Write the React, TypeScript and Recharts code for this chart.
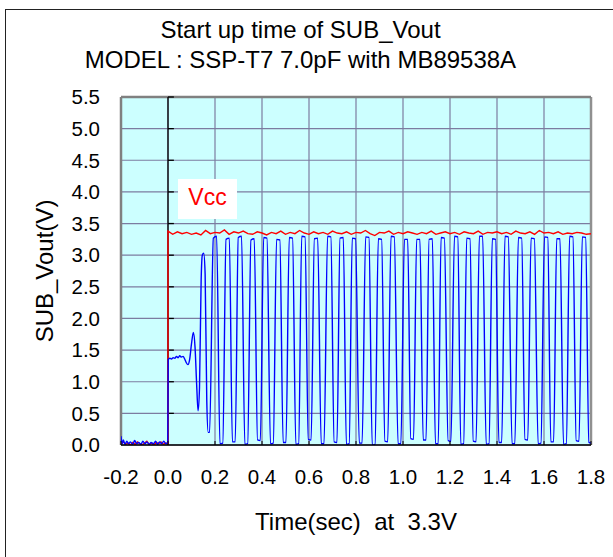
import { LineChart, Line, XAxis, YAxis, CartesianGrid, ReferenceLine, Label } from "recharts";

// axis ticks
const xTicks = [-0.2, 0, 0.2, 0.4, 0.6, 0.8, 1.0, 1.2, 1.4, 1.6, 1.8];
const yTicks = [0, 0.5, 1.0, 1.5, 2.0, 2.5, 3.0, 3.5, 4.0, 4.5, 5.0, 5.5];

// Vcc (red) : [time sec, volt]
const vccOff: [number, number][] = [
  [-0.2, 0.02], [-0.19, 0.05], [-0.18, 0.01], [-0.17, 0.03], [-0.16, 0.0], [-0.15, 0.04],
  [-0.14, 0.01], [-0.13, 0.05], [-0.12, 0.02], [-0.11, 0.0], [-0.1, 0.03], [-0.09, 0.06],
  [-0.08, 0.01], [-0.07, 0.03], [-0.06, 0.0], [-0.05, 0.04], [-0.04, 0.02], [-0.03, 0.05],
  [-0.02, 0.01], [-0.01, 0.03], [0, 0.02],
];
const vccOn: [number, number][] = [
  [0, 3.38], [0.02, 3.33], [0.04, 3.37], [0.06, 3.34], [0.08, 3.36], [0.1, 3.33], [0.12, 3.35],
  [0.14, 3.32], [0.16, 3.39], [0.18, 3.34], [0.2, 3.36], [0.22, 3.35], [0.24, 3.4], [0.26, 3.33],
  [0.28, 3.37], [0.3, 3.35], [0.32, 3.38], [0.34, 3.34], [0.36, 3.33], [0.38, 3.37], [0.4, 3.35],
  [0.42, 3.32], [0.44, 3.36], [0.46, 3.34], [0.48, 3.38], [0.5, 3.33], [0.52, 3.36], [0.54, 3.34],
  [0.56, 3.39], [0.58, 3.35], [0.6, 3.33], [0.62, 3.37], [0.64, 3.34], [0.66, 3.36], [0.68, 3.33],
  [0.7, 3.38], [0.72, 3.35], [0.74, 3.34], [0.76, 3.37], [0.78, 3.33], [0.8, 3.36], [0.82, 3.35],
  [0.84, 3.39], [0.86, 3.34], [0.88, 3.31], [0.9, 3.36], [0.92, 3.35], [0.94, 3.38], [0.96, 3.33],
  [0.98, 3.36], [1.0, 3.34], [1.02, 3.37], [1.04, 3.35], [1.06, 3.33], [1.08, 3.36], [1.1, 3.34],
  [1.12, 3.38], [1.14, 3.33], [1.16, 3.35], [1.18, 3.37], [1.2, 3.34], [1.22, 3.36], [1.24, 3.33],
  [1.26, 3.37], [1.28, 3.35], [1.3, 3.34], [1.32, 3.38], [1.34, 3.33], [1.36, 3.36], [1.38, 3.35],
  [1.4, 3.37], [1.42, 3.34], [1.44, 3.36], [1.46, 3.33], [1.48, 3.38], [1.5, 3.35], [1.52, 3.34],
  [1.54, 3.37], [1.56, 3.33], [1.58, 3.39], [1.6, 3.35], [1.62, 3.36], [1.64, 3.34], [1.66, 3.37],
  [1.68, 3.33], [1.7, 3.35], [1.72, 3.34], [1.74, 3.36], [1.76, 3.35], [1.78, 3.33], [1.8, 3.34],
];

// SUB_Vout (blue) : [time sec, volt]
const outOff: [number, number][] = [
  [-0.2, 0.14], [-0.195, 0.02], [-0.19, 0.08], [-0.183, 0.01], [-0.175, 0.06], [-0.168, 0.02],
  [-0.16, 0.05], [-0.15, 0.01], [-0.142, 0.07], [-0.133, 0.02], [-0.125, 0.04], [-0.115, 0.01],
  [-0.107, 0.06], [-0.098, 0.02], [-0.09, 0.05], [-0.08, 0.01], [-0.072, 0.04], [-0.062, 0.02],
  [-0.053, 0.06], [-0.045, 0.01], [-0.036, 0.05], [-0.027, 0.02], [-0.018, 0.06], [-0.009, 0.02],
  [-0.001, 0.04],
];
const outStartup: [number, number][] = [
  [0.001, 1.35], [0.008, 1.37], [0.015, 1.36], [0.022, 1.38], [0.029, 1.37], [0.036, 1.4],
  [0.043, 1.38], [0.05, 1.41], [0.057, 1.39], [0.064, 1.4], [0.071, 1.36], [0.078, 1.3],
  [0.085, 1.27], [0.092, 1.35], [0.1, 1.6], [0.108, 1.78], [0.115, 1.55], [0.122, 0.95],
  [0.128, 0.54], [0.134, 0.9], [0.141, 2.6], [0.146, 3.0], [0.152, 3.03], [0.158, 2.7],
  [0.165, 0.7], [0.171, 0.2], [0.177, 0.2],
];
const outPulses: [number, number][] = [
  [0.193, 3.27], [0.207, 3.3], [0.221, 0.02], [0.233, 0.03],
  [0.247, 3.25], [0.261, 3.27], [0.274, 0.05], [0.286, 0.05],
  [0.299, 3.28], [0.313, 3.3], [0.327, 0.01], [0.339, 0.02],
  [0.353, 3.24], [0.367, 3.26], [0.381, 0.08], [0.393, 0.07],
  [0.407, 3.28], [0.421, 3.27], [0.436, 0.02], [0.448, 0.03],
  [0.462, 3.25], [0.476, 3.24], [0.49, 0.04], [0.502, 0.04],
  [0.516, 3.28], [0.53, 3.27], [0.544, 0.01], [0.556, 0.02],
  [0.569, 3.3], [0.583, 3.29], [0.597, 0.09], [0.609, 0.08],
  [0.623, 3.26], [0.637, 3.27], [0.652, 0.02], [0.664, 0.02],
  [0.679, 3.3], [0.693, 3.29], [0.707, 0.05], [0.719, 0.04],
  [0.732, 3.27], [0.746, 3.28], [0.759, 0.01], [0.771, 0.02],
  [0.784, 3.27], [0.798, 3.26], [0.814, 0.03], [0.826, 0.03],
  [0.841, 3.29], [0.855, 3.28], [0.869, 0.0], [0.881, 0.01],
  [0.895, 3.26], [0.909, 3.25], [0.923, 0.06], [0.935, 0.05],
  [0.949, 3.3], [0.963, 3.29], [0.979, 0.02], [0.991, 0.02],
  [1.006, 3.25], [1.02, 3.25], [1.033, 0.1], [1.045, 0.09],
  [1.058, 3.25], [1.072, 3.25], [1.086, 0.08], [1.098, 0.08],
  [1.111, 3.25], [1.125, 3.26], [1.138, 0.02], [1.15, 0.02],
  [1.162, 3.28], [1.176, 3.27], [1.192, 0.07], [1.204, 0.06],
  [1.219, 3.3], [1.233, 3.29], [1.246, 0.01], [1.258, 0.02],
  [1.271, 3.27], [1.285, 3.26], [1.299, 0.06], [1.311, 0.05],
  [1.325, 3.3], [1.339, 3.3], [1.354, 0.01], [1.366, 0.02],
  [1.38, 3.26], [1.394, 3.25], [1.408, 0.04], [1.42, 0.04],
  [1.434, 3.3], [1.448, 3.29], [1.464, 0.02], [1.476, 0.02],
  [1.491, 3.28], [1.505, 3.27], [1.519, 0.09], [1.531, 0.08],
  [1.545, 3.27], [1.559, 3.26], [1.575, 0.02], [1.587, 0.03],
  [1.602, 3.29], [1.616, 3.28], [1.629, 0.05], [1.641, 0.05],
  [1.654, 3.26], [1.668, 3.26], [1.683, 0.01], [1.695, 0.02],
  [1.709, 3.3], [1.723, 3.29], [1.737, 0.07], [1.749, 0.06],
  [1.763, 3.29], [1.777, 3.28], [1.791, 0.04], [1.8, 0.03],
];

const toRows = (pairs: [number, number][]) => pairs.map(([t, v]) => ({ t, v }));
const vccData = toRows([...vccOff, ...vccOn]);
const outData = toRows([...outOff, ...outStartup, ...outPulses]);

const FONT = "'Liberation Sans', Arial, sans-serif";
const fmt = (v: number) => v.toFixed(1);

export default function App() {
  return (
    <div style={{ position: "absolute", left: 0, top: 0, width: 613, height: 557, background: "#fff", fontFamily: FONT, overflow: "hidden" }}>
      <div style={{ position: "absolute", left: 5, top: 9, width: 608, height: 548, borderLeft: "1.5px solid #222", borderTop: "1.5px solid #222" }} />
      <div style={{ position: "absolute", left: 0, top: 15, width: 601, textAlign: "center", fontSize: 24, lineHeight: "30px", color: "#000" }}>
        Start up time of SUB_Vout
        <br />
        MODEL : SSP-T7 7.0pF with MB89538A
      </div>
      <LineChart width={613} height={557} margin={{ top: 97, right: 22, bottom: 0, left: 0 }} style={{ position: "absolute", left: 0, top: 0 }}>
        <CartesianGrid fill="#CCFFFF" stroke="#7C7CA0" strokeWidth={1.2} />
        <XAxis
          dataKey="t"
          type="number"
          domain={[-0.2, 1.8]}
          ticks={xTicks}
          interval={0}
          allowDataOverflow
          height={112}
          tickFormatter={fmt}
          tick={{ fill: "#000", fontSize: 20.5 }}
          tickSize={-4}
          tickMargin={28}
          tickLine={{ stroke: "#000" }}
          axisLine={{ stroke: "#000", strokeWidth: 1.5 }}
        >
          <Label value={"Time(sec)\u00a0\u00a0at\u00a0\u00a03.3V"} position="insideBottom" offset={27} fontSize={24} fill="#000" />
        </XAxis>
        <YAxis
          type="number"
          domain={[0, 5.5]}
          ticks={yTicks}
          interval={0}
          allowDataOverflow
          width={121}
          tickFormatter={fmt}
          tick={{ fill: "#000", fontSize: 20.5 }}
          tickSize={0}
          tickMargin={21}
          tickLine={false}
          axisLine={false}
        >
          <Label value="SUB_Vout(V)" angle={-90} position="center" dx={-16} fontSize={24} fill="#000" />
        </YAxis>
        <ReferenceLine x={-0.2} stroke="#808080" strokeWidth={2.5} />
        <ReferenceLine x={1.8} stroke="#909090" strokeWidth={2.5} />
        <ReferenceLine y={5.5} stroke="#808080" strokeWidth={2.5} />
        <ReferenceLine x={0} stroke="#000" strokeWidth={1.3} />
        {yTicks.slice(1).map((v) => (
          <ReferenceLine key={v} segment={[{ x: 0, y: v }, { x: 0.025, y: v }]} stroke="#000" strokeWidth={1.3} />
        ))}
        <Line data={vccData} dataKey="v" type="linear" stroke="#FF0000" strokeWidth={1.4} dot={false} isAnimationActive={false} />
        <Line data={outData} dataKey="v" type="monotone" stroke="#0000FF" strokeWidth={1.4} dot={false} isAnimationActive={false} />
      </LineChart>
      <div style={{ position: "absolute", left: 178, top: 179, width: 59, height: 40, background: "#fff", color: "#FF0000", fontSize: 23, lineHeight: "36px", textAlign: "center" }}>
        Vcc
      </div>
    </div>
  );
}
